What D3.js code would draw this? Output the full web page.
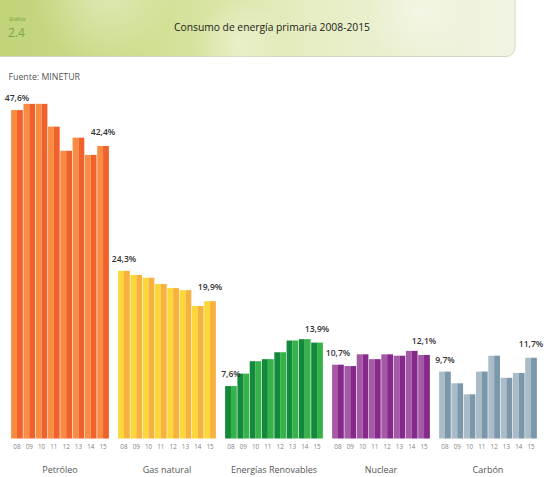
<!DOCTYPE html>
<html>
<head>
<meta charset="utf-8">
<script src="https://cdn.jsdelivr.net/npm/d3@7"></script>
<style>
  html, body { margin: 0; padding: 0; background: #ffffff; }
  svg { display: block; font-family: "Open Sans", "Noto Sans", sans-serif; }
</style>
</head>
<body>
<svg id="chart" width="550" height="477"></svg>
<script>
// ---- Data ----
const categories = ["Petróleo", "Gas natural", "Energías Renovables", "Nuclear", "Carbón"];
const years = ["08", "09", "10", "11", "12", "13", "14", "15"];
const petroleo = [47.6, 48.5, 48.5, 45.2, 41.7, 43.6, 41.1, 42.4];
const gasNatural = [24.3, 23.7, 23.3, 22.4, 21.8, 21.5, 19.2, 19.9];
const renovables = [7.6, 9.4, 11.2, 11.5, 12.5, 14.2, 14.4, 13.9];
const nuclear = [10.7, 10.5, 12.2, 11.5, 12.2, 12.0, 12.7, 12.1];
const carbon = [9.7, 8.0, 6.4, 9.7, 12.0, 8.8, 9.5, 11.7];
const firstLabels = ["47,6%", "24,3%", "7,6%", "10,7%", "9,7%"];
const lastLabels = ["42,4%", "19,9%", "13,9%", "12,1%", "11,7%"];

const seriesValues = [petroleo, gasNatural, renovables, nuclear, carbon];
const palette = [
  { left: "#f98c43", right: "#f0612b" },
  { left: "#fdd73a", right: "#f7b23e" },
  { left: "#13893b", right: "#36b24a" },
  { left: "#a659a6", right: "#85298a" },
  { left: "#a9bcc7", right: "#7b97aa" }
];

const svg = d3.select("#chart");
const defs = svg.append("defs");

// ---- Header ----
const lg = defs.append("linearGradient").attr("id", "hdr").attr("x1", "0").attr("x2", "1").attr("y1", "0").attr("y2", "0");
lg.append("stop").attr("offset", "0%").attr("stop-color", "#bfd276");
lg.append("stop").attr("offset", "30%").attr("stop-color", "#d0df90");
lg.append("stop").attr("offset", "60%").attr("stop-color", "#e6edc2");
lg.append("stop").attr("offset", "100%").attr("stop-color", "#f1f4e4");
const rg = defs.append("radialGradient").attr("id", "bokeh");
rg.append("stop").attr("offset", "0%").attr("stop-color", "#ffffff").attr("stop-opacity", 0.35);
rg.append("stop").attr("offset", "100%").attr("stop-color", "#ffffff").attr("stop-opacity", 0);
const clip = defs.append("clipPath").attr("id", "hclip");
clip.append("rect").attr("x", -10).attr("y", -10).attr("width", 525).attr("height", 66.5).attr("rx", 9);

svg.append("rect").attr("x", -10).attr("y", -10).attr("width", 525).attr("height", 66.5).attr("rx", 9)
  .attr("fill", "url(#hdr)").attr("stroke", "#d2d7c0").attr("stroke-width", 1);
const hg = svg.append("g").attr("clip-path", "url(#hclip)");
hg.append("circle").attr("cx", 105).attr("cy", -5).attr("r", 70).attr("fill", "url(#bokeh)");
hg.append("circle").attr("cx", 240).attr("cy", 45).attr("r", 45).attr("fill", "url(#bokeh)");
hg.append("circle").attr("cx", 420).attr("cy", 10).attr("r", 55).attr("fill", "url(#bokeh)");

svg.append("text").attr("x", 9).attr("y", 20.5).attr("font-size", 5).attr("fill", "#6f9d3c").text("Gráfico");
svg.append("text").attr("x", 8).attr("y", 37).attr("font-size", 12).attr("fill", "#79a545").text("2.4");
svg.append("text").attr("x", 272).attr("y", 31).attr("text-anchor", "middle").attr("font-size", 10.3)
  .attr("fill", "#222").text("Consumo de energía primaria 2008-2015");

svg.append("text").attr("x", 8.5).attr("y", 79.5).attr("font-size", 8.8).attr("fill", "#555").text("Fuente: MINETUR");

// ---- Scales ----
const x0 = d3.scaleBand().domain(categories).range([11, 537]).paddingInner(0.084).paddingOuter(0);
const x1 = d3.scaleBand().domain(years).range([0, x0.bandwidth()]).paddingInner(0.05).paddingOuter(0.01);
const y = d3.scaleLinear().domain([0, 50]).range([438.5, 93.5]);

// ---- Bars ----
categories.forEach((cat, ci) => {
  const g = svg.append("g").attr("transform", `translate(${x0(cat)},0)`);
  const vals = seriesValues[ci];
  const w = x1.bandwidth();
  const bars = g.selectAll("g.bar").data(vals).join("g").attr("class", "bar");
  bars.append("rect")
    .attr("x", (d, i) => x1(years[i]))
    .attr("y", d => y(d))
    .attr("width", w / 2)
    .attr("height", d => y(0) - y(d))
    .attr("fill", palette[ci].left);
  bars.append("rect")
    .attr("x", (d, i) => x1(years[i]) + w / 2)
    .attr("y", d => y(d))
    .attr("width", w / 2)
    .attr("height", d => y(0) - y(d))
    .attr("fill", palette[ci].right);

  // year axis
  const ax = d3.axisBottom(x1).tickSize(0).tickPadding(0);
  const axG = g.append("g").attr("transform", "translate(0,445)").call(ax);
  axG.attr("color", "#808080");
  axG.select(".domain").remove();
  axG.selectAll("text").attr("font-size", 6.3).style("fill", "#808080").attr("dy", "0.71em")
    .attr("font-family", "'Open Sans', sans-serif");

  // category label
  g.append("text").attr("x", x0.bandwidth() / 2).attr("y", 472.5).attr("text-anchor", "middle")
    .attr("font-size", 9).attr("fill", "#555").text(cat);

  // value labels
  g.append("text").attr("x", x1(years[0]) + w / 2).attr("y", y(vals[0]) - 9)
    .attr("text-anchor", "middle").attr("font-size", 8.6).attr("font-weight", 600).attr("fill", "#333")
    .text(firstLabels[ci]);
  g.append("text").attr("x", x1(years[7]) + w / 2).attr("y", y(vals[7]) - 11)
    .attr("text-anchor", "middle").attr("font-size", 8.6).attr("font-weight", 600).attr("fill", "#333")
    .text(lastLabels[ci]);
});
</script>
</body>
</html>
